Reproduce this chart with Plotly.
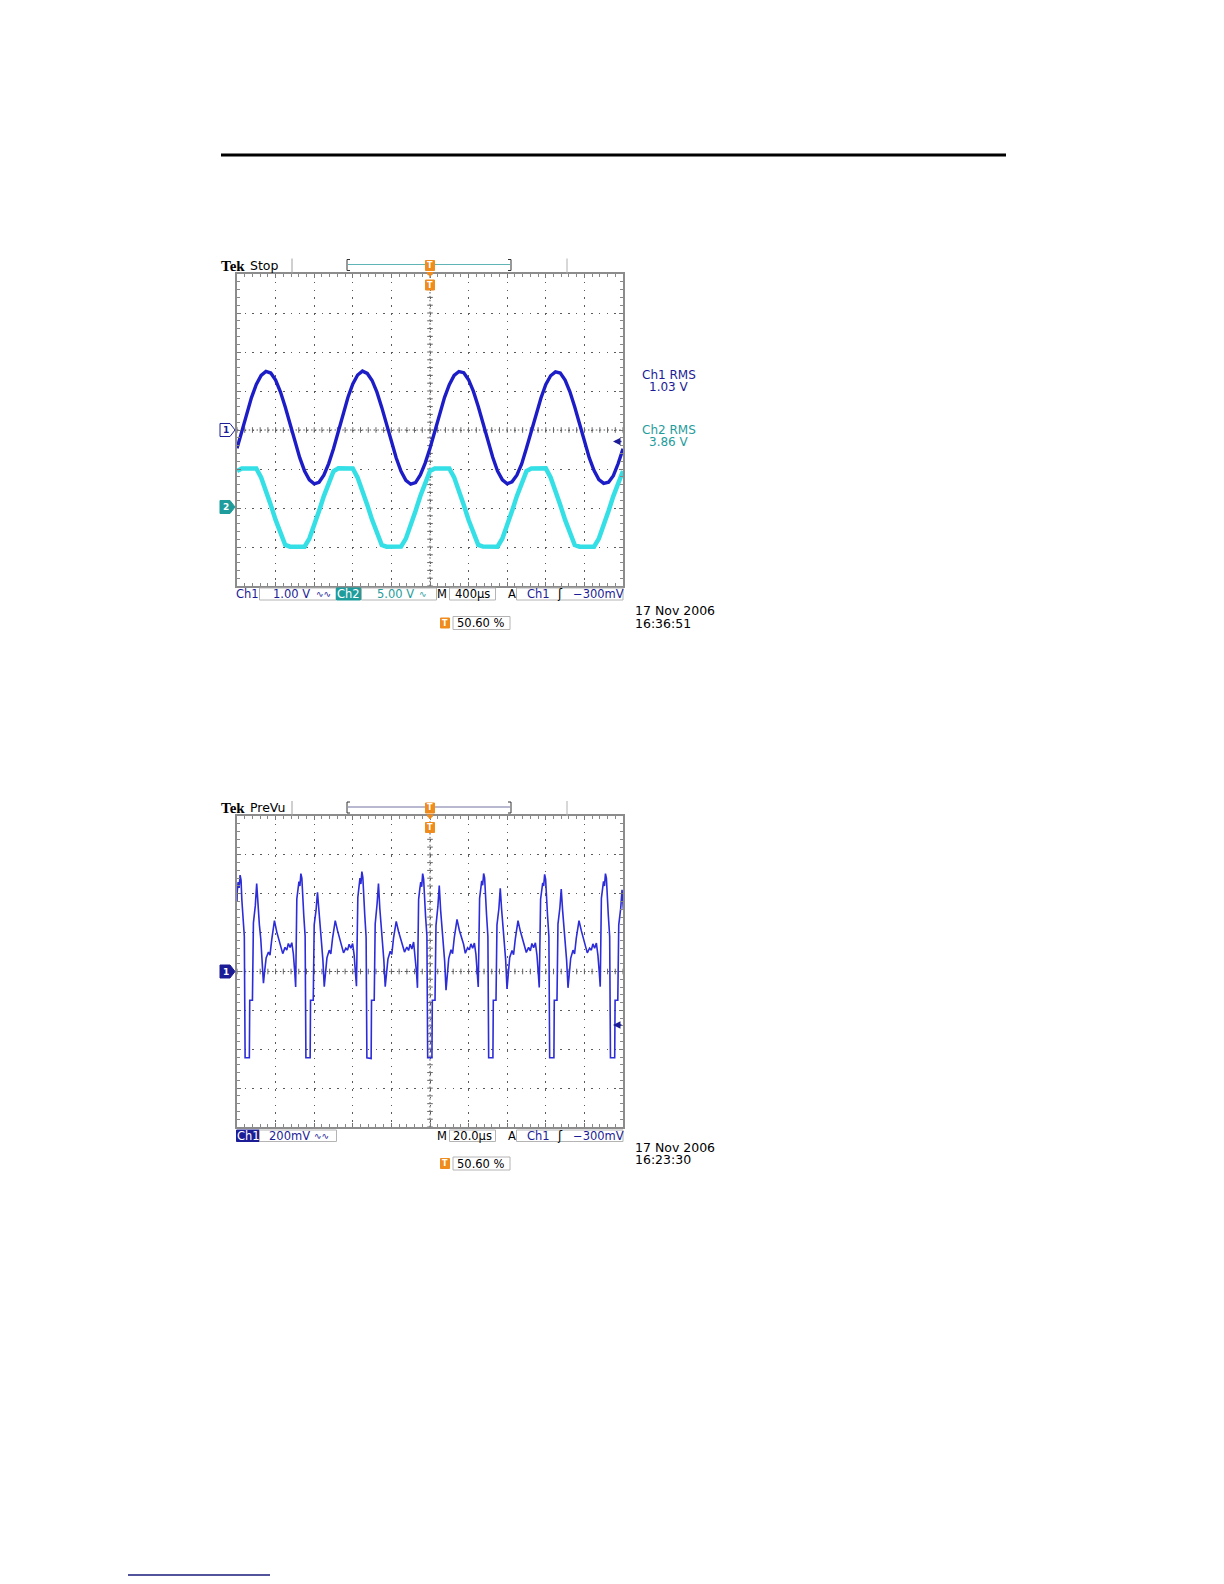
import numpy as np
import plotly.graph_objects as go

W, H = 1224, 1584
FONT = "DejaVu Sans"
NAVY = "#1c1c96"
TEAL = "#1f9c9c"
ORANGE = "#f08c1e"

# ---------------- data: upper screen (Tek Stop, 400 us/div) ----------------
t_top_us = list(range(-2000, 2001, 50))
ch1_top_v = [
    -0.47, -0.03, 0.42, 0.83, 1.17, 1.40, 1.50, 1.46, 1.28, 0.98, 0.59, 0.15, -0.30, -0.71, -1.05, -1.28, -1.38, -1.34, -1.16, -0.86,
    -0.48, -0.04, 0.41, 0.84, 1.18, 1.41, 1.51, 1.45, 1.27, 0.97, 0.58, 0.14, -0.31, -0.72, -1.06, -1.29, -1.39, -1.35, -1.15, -0.85,
    -0.47, -0.02, 0.43, 0.83, 1.16, 1.40, 1.50, 1.47, 1.29, 0.99, 0.60, 0.15, -0.29, -0.70, -1.05, -1.28, -1.38, -1.33, -1.16, -0.87,
    -0.46, -0.03, 0.42, 0.82, 1.17, 1.39, 1.49, 1.46, 1.28, 0.98, 0.59, 0.16, -0.30, -0.71, -1.04, -1.27, -1.37, -1.34, -1.17, -0.86,
    -0.48,
]
ch2_top_v = [
    4.74, 5.07, 5.07, 5.07, 5.07, 3.92, 2.26, 0.39, -1.53, -3.30, -4.74, -4.96, -4.96, -4.96, -4.96, -3.92, -2.26, -0.39, 1.53, 3.30,
    4.72, 5.08, 5.07, 5.08, 5.06, 3.90, 2.25, 0.40, -1.52, -3.31, -4.75, -4.96, -4.97, -4.96, -4.95, -3.93, -2.27, -0.38, 1.54, 3.29,
    4.75, 5.07, 5.08, 5.07, 5.07, 3.93, 2.27, 0.38, -1.54, -3.29, -4.73, -4.95, -4.96, -4.97, -4.96, -3.91, -2.25, -0.40, 1.52, 3.31,
    4.73, 5.06, 5.07, 5.07, 5.08, 3.91, 2.26, 0.39, -1.53, -3.30, -4.74, -4.96, -4.96, -4.95, -4.96, -3.92, -2.26, -0.39, 1.53, 3.30,
    4.74,
]

# ---------------- data: lower screen (Tek PreVu, 20 us/div, 200 mV/div) ----------------
t_bot_us = [
    -100.0, -99.9, -99.4, -98.9, -98.4, -97.9, -97.5, -96.9, -96.2, -95.8, -93.6, -93.4, -92.0, -91.5, -90.5, -89.8, -89.1, -88.4, -87.7, -87.0,
    -86.3, -85.8, -84.9, -83.7, -82.9, -82.0, -80.6, -79.4, -78.0, -77.2, -76.3, -75.1, -74.2, -73.4, -72.5, -71.6, -70.8, -70.1, -69.6,
    -69.0, -68.4, -67.9, -67.4, -66.9, -66.4, -66.0, -65.4, -64.7, -64.3, -62.1, -61.9, -60.5, -60.0, -59.0, -58.3, -57.6, -56.9, -56.2, -55.5,
    -54.8, -54.3, -53.4, -52.2, -51.4, -50.5, -49.1, -47.9, -46.5, -45.7, -44.8, -43.6, -42.7, -41.9, -41.0, -40.1, -39.3, -38.6, -38.1,
    -37.4, -36.8, -36.3, -35.8, -35.3, -34.8, -34.4, -33.8, -33.1, -32.7, -30.5, -30.3, -28.9, -28.4, -27.4, -26.7, -26.0, -25.3, -24.6, -23.9,
    -23.2, -22.7, -21.8, -20.6, -19.8, -18.9, -17.5, -16.3, -14.9, -14.1, -13.2, -12.0, -11.1, -10.3, -9.4, -8.5, -7.7, -7.0, -6.5,
    -5.9, -5.3, -4.8, -4.3, -3.8, -3.3, -2.9, -2.3, -1.6, -1.2, 1.0, 1.2, 2.6, 3.1, 4.1, 4.8, 5.5, 6.2, 6.9, 7.6,
    8.3, 8.8, 9.7, 10.9, 11.7, 12.6, 14.0, 15.2, 16.6, 17.4, 18.3, 19.5, 20.4, 21.2, 22.1, 23.0, 23.8, 24.5, 25.0,
    25.7, 26.3, 26.8, 27.3, 27.8, 28.3, 28.7, 29.3, 30.0, 30.4, 32.6, 32.8, 34.2, 34.7, 35.7, 36.4, 37.1, 37.8, 38.5, 39.2,
    39.9, 40.4, 41.3, 42.5, 43.3, 44.2, 45.6, 46.8, 48.2, 49.0, 49.9, 51.1, 52.0, 52.8, 53.7, 54.6, 55.4, 56.1, 56.6,
    57.3, 57.9, 58.4, 58.9, 59.4, 59.9, 60.3, 60.9, 61.6, 62.0, 64.2, 64.4, 65.8, 66.3, 67.3, 68.0, 68.7, 69.4, 70.1, 70.8,
    71.5, 72.0, 72.9, 74.1, 74.9, 75.8, 77.2, 78.4, 79.8, 80.6, 81.5, 82.7, 83.6, 84.4, 85.3, 86.2, 87.0, 87.7, 88.2,
    88.8, 89.4, 89.9, 90.4, 90.9, 91.4, 91.8, 92.4, 93.1, 93.5, 95.7, 95.9, 97.3, 97.8, 98.8, 99.5, 100.2,
]
ch1_bot_mv = [
    360, 410, 460, 430, 496, 470, 370, 280, 180, -444, -444, -148, -148, 250, 340, 452, 330, 240, 170, 50,
    -60, -10, 70, 100, 84, 164, 262, 204, 156, 132, 92, 124, 110, 144, 124, 148, 90, 0, -80,
    374, 420, 462, 440, 504, 480, 374, 288, 182, -444, -444, -148, -148, 240, 320, 408, 320, 240, 180, 60,
    -78, -20, 70, 110, 90, 170, 262, 210, 160, 140, 96, 120, 110, 140, 120, 144, 84, -10, -76,
    380, 430, 480, 450, 514, 484, 380, 290, 176, -444, -448, -148, -148, 244, 350, 452, 324, 236, 172, 56,
    -78, -16, 64, 104, 88, 172, 258, 206, 158, 136, 100, 126, 108, 140, 116, 152, 80, -4, -84,
    370, 424, 460, 436, 504, 476, 372, 284, 184, -444, -444, -148, -148, 236, 336, 442, 316, 232, 176, 52,
    -96, -24, 66, 112, 92, 176, 268, 212, 164, 140, 94, 122, 112, 142, 120, 146, 88, 0, -80,
    376, 416, 466, 444, 504, 482, 376, 292, 180, -444, -444, -148, -148, 240, 324, 428, 320, 244, 176, 60,
    -90, -20, 72, 108, 86, 168, 262, 208, 160, 138, 98, 124, 106, 144, 122, 148, 86, -6, -82,
    372, 420, 456, 440, 500, 476, 370, 288, 180, -444, -444, -148, -148, 244, 328, 424, 316, 236, 172, 56,
    -84, -16, 68, 110, 90, 172, 262, 210, 162, 140, 96, 120, 110, 142, 120, 146, 84, -4, -78,
    376, 424, 464, 440, 504, 480, 372, 288, 180, -444, -444, -148, -148, 240, 324, 420, 320,
]

# ---------------- text read from the screens ----------------
top_status = "Stop"
bot_status = "PreVu"
rms_labels = [("Ch1 RMS", "1.03 V", NAVY), ("Ch2 RMS", "3.86 V", TEAL)]
top_date = ("17 Nov 2006", "16:36:51")
bot_date = ("17 Nov 2006", "16:23:30")
trig_pos = "50.60 %"


def px(x):
    return x / W


def py(y):
    return 1 - y / H


# screen geometry (pixels)
X0, X1 = 237, 623
TOP_Y0, TOP_Y1 = 274, 586
BOT_Y0, BOT_Y1 = 816, 1127

fig = go.Figure()

# ---- centre-line tick marks (graticule decoration) ----
def centre_ticks(xa, ya, xr, yr, xstep, ystep):
    xs = np.arange(xr[0], xr[1] + xstep / 2, xstep)
    ys = np.arange(yr[0], yr[1] + ystep / 2, ystep)
    fig.add_trace(go.Scatter(x=np.zeros_like(ys), y=ys, xaxis=xa, yaxis=ya, mode="markers",
                             marker=dict(symbol="line-ew", size=4, line=dict(width=1, color="#666")),
                             hoverinfo="skip", showlegend=False))
    fig.add_trace(go.Scatter(x=xs, y=np.zeros_like(xs), xaxis=xa, yaxis=ya, mode="markers",
                             marker=dict(symbol="line-ns", size=4, line=dict(width=1, color="#666")),
                             hoverinfo="skip", showlegend=False))


centre_ticks("x", "y", (-2000, 2000), (-4, 4), 80, 0.2)
centre_ticks("x3", "y3", (-100, 100), (-800, 800), 4, 40)

# ---- traces ----
fig.add_trace(go.Scatter(x=t_top_us, y=ch2_top_v, xaxis="x", yaxis="y2", mode="lines",
                         line=dict(color="#35dfe6", width=4.5), hoverinfo="skip", showlegend=False))
fig.add_trace(go.Scatter(x=t_top_us, y=ch1_top_v, xaxis="x", yaxis="y", mode="lines",
                         line=dict(color="#1d1dc8", width=3.4), hoverinfo="skip", showlegend=False))
fig.add_trace(go.Scatter(x=t_bot_us, y=ch1_bot_mv, xaxis="x3", yaxis="y3", mode="lines",
                         line=dict(color="#2c2cd8", width=1.6), hoverinfo="skip", showlegend=False))


def xaxis_cfg(rng, dt, dminor):
    return dict(domain=[px(X0), px(X1)], range=rng, dtick=dt, tick0=0,
                showgrid=True, gridcolor="#5a5a5a", gridwidth=1.2, griddash="1.5px,6.3px",
                zeroline=False, showline=True, linecolor="#8c8c8c", linewidth=2, mirror="ticks",
                ticks="inside", ticklen=4, tickcolor="#777",
                minor=dict(dtick=dminor, tick0=0, ticks="inside", ticklen=3, tickcolor="#888", showgrid=False),
                showticklabels=False, fixedrange=True)


def yaxis_cfg(dom, rng, dt, dminor):
    return dict(domain=dom, range=rng, dtick=dt, tick0=0,
                showgrid=True, gridcolor="#5a5a5a", gridwidth=1.2, griddash="1.5px,6.2px",
                zeroline=False, showline=True, linecolor="#8c8c8c", linewidth=2, mirror="ticks",
                ticks="inside", ticklen=4, tickcolor="#777",
                minor=dict(dtick=dminor, tick0=0, ticks="inside", ticklen=3, tickcolor="#888", showgrid=False),
                showticklabels=False, fixedrange=True)


top_dom = [py(TOP_Y1), py(TOP_Y0)]
bot_dom = [py(BOT_Y1), py(BOT_Y0)]

fig.update_layout(
    width=W, height=H, autosize=False,
    margin=dict(l=0, r=0, t=0, b=0, pad=0),
    paper_bgcolor="white", plot_bgcolor="white",
    xaxis=dict(**xaxis_cfg([-2000, 2000], 400, 80), anchor="y"),
    yaxis=dict(**yaxis_cfg(top_dom, [-4, 4], 1, 0.2), anchor="x"),
    yaxis2=dict(range=[-10, 30], overlaying="y", anchor="x", visible=False, fixedrange=True),
    xaxis3=dict(**xaxis_cfg([-100, 100], 20, 4), anchor="y3"),
    yaxis3=dict(**yaxis_cfg(bot_dom, [-800, 800], 200, 40), anchor="x3"),
    showlegend=False,
)

shapes = []
ann = []

# centre cross lines
for xr, yr, xa, ya in (((-2000, 2000), (-4, 4), "x", "y"), ((-100, 100), (-800, 800), "x3", "y3")):
    shapes.append(dict(type="line", xref=xa, yref=ya, x0=0, x1=0, y0=yr[0], y1=yr[1],
                       line=dict(color="#555", width=1, dash="1.5px,2.4px"), layer="below"))
    shapes.append(dict(type="line", xref=xa, yref=ya, x0=xr[0], x1=xr[1], y0=0, y1=0,
                       line=dict(color="#555", width=1, dash="1.5px,2.4px"), layer="below"))

# page rules
shapes.append(dict(type="line", xref="paper", yref="paper", x0=px(221), x1=px(1006), y0=py(155), y1=py(155),
                   line=dict(color="black", width=3.2)))
shapes.append(dict(type="line", xref="paper", yref="paper", x0=px(128), x1=px(270), y0=py(1575), y1=py(1575),
                   line=dict(color="#1a1a7a", width=1.3)))


def text(x, y, s, size=11, color="black", xanchor="center", family=FONT, bg=None):
    d = dict(xref="paper", yref="paper", x=px(x), y=py(y), text=s, showarrow=False,
             xanchor=xanchor, yanchor="middle", font=dict(family=family, size=size, color=color))
    if bg:
        d["bgcolor"] = bg
    ann.append(d)


def rect(x0, y0, x1, y1, line="#b4b4b4", fill=None, width=1):
    shapes.append(dict(type="rect", xref="paper", yref="paper", x0=px(x0), x1=px(x1), y0=py(y1), y1=py(y0),
                       line=dict(color=line, width=width), fillcolor=fill if fill else "rgba(0,0,0,0)"))


def line(x0, y0, x1, y1, color, width=1):
    shapes.append(dict(type="line", xref="paper", yref="paper", x0=px(x0), x1=px(x1), y0=py(y0), y1=py(y1),
                       line=dict(color=color, width=width)))


def path(pts, fill, linecolor, width=1):
    p = "M " + " L ".join(f"{px(a):.5f},{py(b):.5f}" for a, b in pts) + " Z"
    shapes.append(dict(type="path", xref="paper", yref="paper", path=p, fillcolor=fill,
                       line=dict(color=linecolor, width=width)))


def orange_t(x, y):
    path([(x - 4.5, y - 5), (x + 4.5, y - 5), (x + 4.5, y + 5), (x - 4.5, y + 5)], ORANGE, ORANGE)
    text(x, y, "<b>T</b>", size=8, color="white")


def header(y, status, bracket_color):
    text(219, y, "<b>Tek</b>", size=15, family="Liberation Serif", xanchor="left")
    text(248, y, status, size=12.5, xanchor="left")
    line(292, y - 7, 292, y + 8, "#a0a0a0", 1)
    line(567, y - 7, 567, y + 8, "#b0b0b0", 1)
    # record view bracket
    line(347, y - 6, 347, y + 5, "#333", 1)
    line(347, y - 6, 350, y - 6, "#333", 1)
    line(347, y + 5, 350, y + 5, "#333", 1)
    line(511, y - 6, 511, y + 5, "#333", 1)
    line(508, y - 6, 511, y - 6, "#333", 1)
    line(508, y + 5, 511, y + 5, "#333", 1)
    line(348, y - 1, 510, y - 1, bracket_color, 1.2)
    orange_t(430, y)
    path([(427, y + 7), (433, y + 7), (430, y + 11)], ORANGE, ORANGE)


def ground_marker(yc, label, fill, edge, fcolor):
    path([(220, yc - 6.5), (230, yc - 6.5), (235, yc), (230, yc + 6.5), (220, yc + 6.5)], fill, edge, 1)
    text(225.5, yc, "<b>" + label + "</b>", size=9, color=fcolor)


def trig_level_arrow(y):
    ann.append(dict(xref="paper", yref="paper", x=px(613), y=py(y), ax=10, ay=0, text="",
                    showarrow=True, arrowhead=2, arrowsize=1, arrowwidth=1.5, arrowcolor=NAVY))


def trig_pos_box(y):
    orange_t(445, y)
    rect(453, y - 6.5, 510, y + 6.5)
    text(481, y, trig_pos, size=11.5)


# ---------- upper screen decorations ----------
header(265.5, top_status, "#5fb5b5")
orange_t(430, 285)
ground_marker(430, "1", "white", NAVY, NAVY)
ground_marker(507, "2", TEAL, TEAL, "white")
trig_level_arrow(441.5)
for i, (a, b, c) in enumerate(rms_labels):
    yb = 375 + i * 55
    text(669, yb, a, size=12, color=c)
    text(669, yb + 12, b, size=12, color=c)

yb = 593.5
text(247.5, yb, "Ch1", size=11.5, color=NAVY)
rect(259.5, 588, 336, 600)
text(291, yb, "1.00 V", size=11.5, color=NAVY)
text(323, yb, "∿∿", size=9, color=NAVY)
rect(336.5, 588, 360.5, 600, line=TEAL, fill=TEAL)
text(348.5, yb, "Ch2", size=11.5, color="white")
rect(361.5, 588, 436.5, 600)
text(395, yb, "5.00 V", size=11.5, color=TEAL)
text(423, yb, "∿", size=9, color=TEAL)
text(442, yb, "M", size=11.5)
rect(449.5, 588, 495.5, 600)
text(472.5, yb, "400µs", size=11.5)
text(511.5, yb, "A", size=11.5)
rect(516.5, 588, 623, 600)
text(538, yb, "Ch1", size=11.5, color=NAVY)
text(560, yb, "ʃ", size=12)
text(598.5, yb, "−300mV", size=11.5, color=NAVY)
trig_pos_box(623)
text(633, 610, top_date[0], size=12.5, xanchor="left")
text(633, 623, top_date[1], size=12.5, xanchor="left")

# ---------- lower screen decorations ----------
header(808, bot_status, "#7272a2")
orange_t(430, 827.5)
ground_marker(971.5, "1", NAVY, NAVY, "white")
trig_level_arrow(1025)

yb = 1135.5
rect(236.5, 1130, 259.5, 1141.5, line=NAVY, fill=NAVY)
text(248, yb, "Ch1", size=11.5, color="white")
rect(259.5, 1130, 336.5, 1141.5)
text(289, yb, "200mV", size=11.5, color=NAVY)
text(321, yb, "∿∿", size=9, color=NAVY)
text(442, yb, "M", size=11.5)
rect(449.5, 1130, 495.5, 1141.5)
text(472.5, yb, "20.0µs", size=11.5)
text(511.5, yb, "A", size=11.5)
rect(516.5, 1130, 623, 1141.5)
text(538, yb, "Ch1", size=11.5, color=NAVY)
text(560, yb, "ʃ", size=12)
text(598.5, yb, "−300mV", size=11.5, color=NAVY)
trig_pos_box(1163.5)
text(633, 1147, bot_date[0], size=12.5, xanchor="left")
text(633, 1159.5, bot_date[1], size=12.5, xanchor="left")

fig.update_layout(shapes=shapes, annotations=ann)

fig.write_html("out.html", config={"displayModeBar": False},
               post_script="document.body.style.margin='0px';")
